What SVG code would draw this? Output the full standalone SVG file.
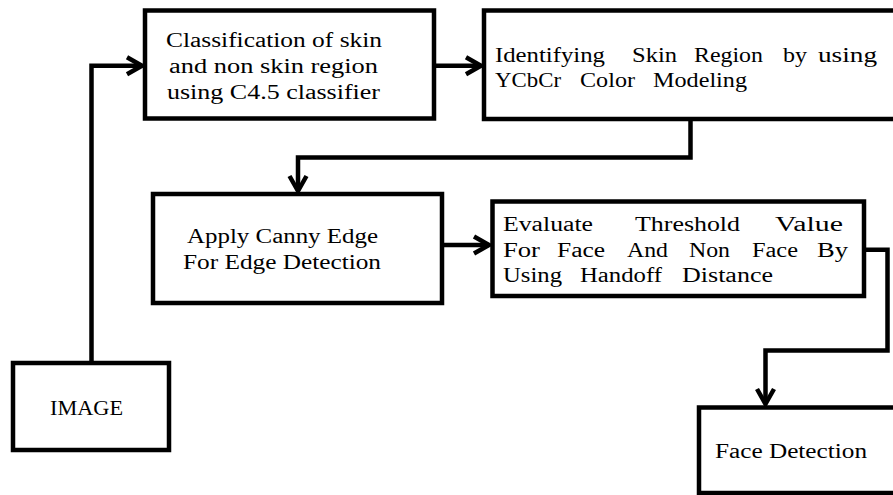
<svg xmlns="http://www.w3.org/2000/svg" width="893" height="495" viewBox="0 0 893 495">
<style>
.box{fill:#fff;stroke:#000;stroke-width:4.5;}
.conn{fill:none;stroke:#000;stroke-width:4.5;stroke-linejoin:miter;}
text{font-family:"Liberation Serif","Times New Roman",serif;font-size:20px;fill:#000;}
.c{text-anchor:middle;}
</style>
<defs>
<marker id="arr" markerUnits="userSpaceOnUse" markerWidth="22" markerHeight="22" viewBox="0 0 22 22" refX="17" refY="11" orient="auto">
<path d="M2,2.5 L17,11 L2,19.5" fill="none" stroke="#000" stroke-width="4.5" stroke-linejoin="miter"/>
</marker>
</defs>
<g id="connectors">
<polyline class="conn" points="91.5,363 91.5,65.8 142,65.8" marker-end="url(#arr)"/>
<polyline class="conn" points="434,65.8 481,65.8" marker-end="url(#arr)"/>
<polyline class="conn" points="690.5,119 690.5,157.5 298,157.5 298,191" marker-end="url(#arr)"/>
<polyline class="conn" points="442,245 489,245" marker-end="url(#arr)"/>
<polyline class="conn" points="864,249.7 887.5,249.7 887.5,350.5 765.5,350.5 765.5,404" marker-end="url(#arr)"/>
</g>
<g id="node-classification">
<rect class="box" x="145" y="10.5" width="289" height="108"/>
<text class="c" x="274" y="47" textLength="216" lengthAdjust="spacingAndGlyphs">Classification of skin</text>
<text class="c" x="273.5" y="73" textLength="209" lengthAdjust="spacingAndGlyphs">and non skin region</text>
<text class="c" x="273.5" y="99" textLength="213" lengthAdjust="spacingAndGlyphs">using C4.5 classifier</text>
</g>
<g id="node-identifying">
<rect class="box" x="484" y="10.5" width="420" height="108.5"/>
<text x="495" y="62" textLength="110" lengthAdjust="spacingAndGlyphs">Identifying</text>
<text x="632" y="62" textLength="45" lengthAdjust="spacingAndGlyphs">Skin</text>
<text x="694" y="62" textLength="69" lengthAdjust="spacingAndGlyphs">Region</text>
<text x="783" y="62" textLength="24" lengthAdjust="spacingAndGlyphs">by</text>
<text x="818" y="62" textLength="59" lengthAdjust="spacingAndGlyphs">using</text>
<text x="495" y="87" textLength="66" lengthAdjust="spacingAndGlyphs">YCbCr</text>
<text x="580" y="87" textLength="55" lengthAdjust="spacingAndGlyphs">Color</text>
<text x="653" y="87" textLength="94" lengthAdjust="spacingAndGlyphs">Modeling</text>
</g>
<g id="node-canny">
<rect class="box" x="153" y="194" width="289" height="109"/>
<text class="c" x="282.5" y="243" textLength="191" lengthAdjust="spacingAndGlyphs">Apply Canny Edge</text>
<text class="c" x="282" y="269" textLength="198" lengthAdjust="spacingAndGlyphs">For Edge Detection</text>
</g>
<g id="node-threshold">
<rect class="box" x="492.5" y="201.5" width="371.5" height="94.5"/>
<text x="503" y="231" textLength="90" lengthAdjust="spacingAndGlyphs">Evaluate</text>
<text x="635" y="231" textLength="105" lengthAdjust="spacingAndGlyphs">Threshold</text>
<text x="775" y="231" textLength="68" lengthAdjust="spacingAndGlyphs">Value</text>
<text x="503" y="257" textLength="37" lengthAdjust="spacingAndGlyphs">For</text>
<text x="557" y="257" textLength="48" lengthAdjust="spacingAndGlyphs">Face</text>
<text x="627" y="257" textLength="41" lengthAdjust="spacingAndGlyphs">And</text>
<text x="689" y="257" textLength="41" lengthAdjust="spacingAndGlyphs">Non</text>
<text x="752" y="257" textLength="46" lengthAdjust="spacingAndGlyphs">Face</text>
<text x="817" y="257" textLength="31" lengthAdjust="spacingAndGlyphs">By</text>
<text x="503" y="282" textLength="59" lengthAdjust="spacingAndGlyphs">Using</text>
<text x="580" y="282" textLength="82" lengthAdjust="spacingAndGlyphs">Handoff</text>
<text x="682" y="282" textLength="91" lengthAdjust="spacingAndGlyphs">Distance</text>
</g>
<g id="node-image">
<rect class="box" x="13" y="363" width="156" height="87"/>
<text x="50" y="415" textLength="73" lengthAdjust="spacingAndGlyphs">IMAGE</text>
</g>
<g id="node-face">
<rect class="box" x="699" y="407.5" width="210" height="85.5"/>
<text x="715" y="458" textLength="152" lengthAdjust="spacingAndGlyphs">Face Detection</text>
</g>
</svg>
